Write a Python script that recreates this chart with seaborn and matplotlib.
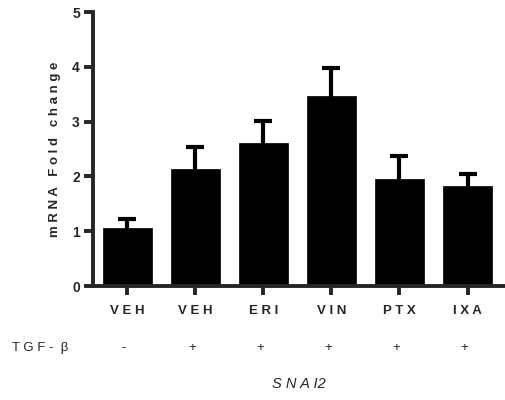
import numpy as np
import pandas as pd
import matplotlib
matplotlib.use("Agg")
import matplotlib.pyplot as plt
import seaborn as sns

# values
treatments = ["VEH", "VEH", "ERI", "VIN", "PTX", "IXA"]
tgf_beta = ["-", "+", "+", "+", "+", "+"]
fold_change = [1.06, 2.14, 2.61, 3.47, 1.95, 1.83]
sem = [0.17, 0.40, 0.40, 0.51, 0.43, 0.21]
y_ticks = [0, 1, 2, 3, 4, 5]


def spaced(s, sep=" "):
    return sep.join(list(s))


sns.set_style("ticks")
plt.rcParams["font.family"] = ["Liberation Sans", "DejaVu Sans"]

data = pd.DataFrame({"pos": range(len(treatments)), "fold": fold_change})

fig = plt.figure(figsize=(5.06, 4.0), dpi=100)
ax = fig.add_axes([0.184, 0.285, 0.814, 0.685])

sns.barplot(data=data, x="pos", y="fold", color="black", saturation=1,
            width=0.72, errorbar=None, edgecolor="black", linewidth=0.5,
            zorder=2, ax=ax)
# error bars sit behind the bars so only the upper half shows
ax.errorbar(data["pos"], data["fold"], yerr=sem, fmt="none", ecolor="black",
            elinewidth=3, capsize=6.5, capthick=3, zorder=1)

ax.set_xlim(-0.5, 5.55)
ax.set_ylim(0, 5)
ax.set_yticks(y_ticks)
ax.set_xticks(range(len(treatments)))
ax.set_xticklabels([spaced(t) for t in treatments], fontweight="bold", fontsize=9.5)
ax.set_yticklabels([str(v) for v in y_ticks], fontweight="bold", fontsize=10)
ax.tick_params(width=2.8, length=6.5)
ax.tick_params(axis="x", pad=7)
ax.tick_params(axis="y", pad=3)
for side in ["left", "bottom"]:
    ax.spines[side].set_linewidth(2.8)
sns.despine(ax=ax)

ax.set_ylabel(spaced("mRNA Fold change"), fontweight="bold", fontsize=9.5)
ax.yaxis.label.set_va("center")
ax.yaxis.set_label_coords(-0.092, 0.5)

ax.set_xlabel("S N A I2", fontstyle="italic", fontsize=10.5)
ax.xaxis.label.set_va("center")
ax.xaxis.set_label_coords(0.5, -0.358)

# TGF-beta row under the category labels
trans = ax.get_xaxis_transform()
ax.text(-1.69, -0.226, "T G F -  β", transform=trans, ha="left", va="center",
        fontsize=9.5, clip_on=False)
for i, sign in enumerate(tgf_beta):
    ax.text(i - 0.05, -0.226, sign, transform=trans, ha="center", va="center",
            fontsize=9.5, clip_on=False)

fig.savefig("out.png", dpi=100)
